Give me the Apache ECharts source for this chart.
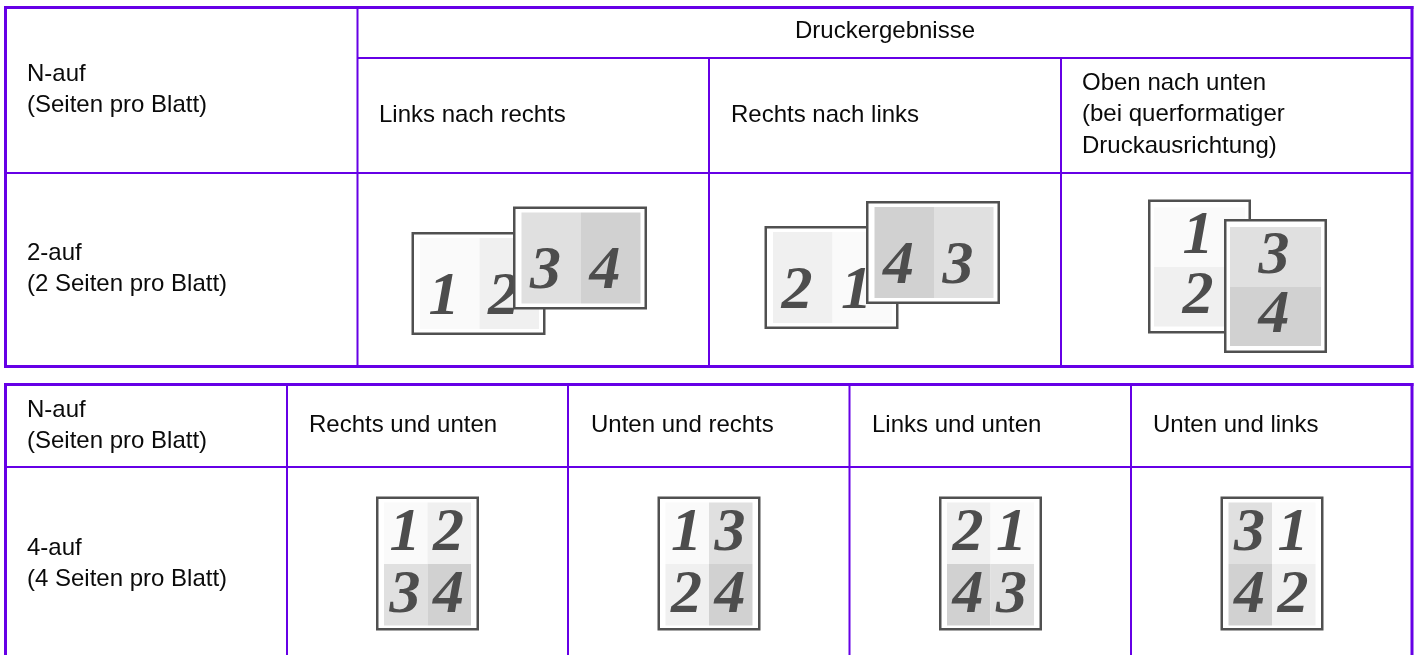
<!DOCTYPE html>
<html style="height: 100%">
<head>
    <meta charset="utf-8">
    <title>N-auf</title>
</head>
<body style="height: 100%; margin: 0; background: #fff">
<div id="container" style="width: 1416px; height: 655px"></div>
<script type="text/javascript" src="https://cdn.jsdelivr.net/npm/echarts@6/dist/echarts.min.js"></script>
<script type="text/javascript">
    // texts of the two tables
    var headerLabels = ['Druckergebnisse', 'N-auf', '(Seiten pro Blatt)', 'Links nach rechts', 'Rechts nach links',
        'Oben nach unten', '(bei querformatiger', 'Druckausrichtung)', '2-auf', '(2 Seiten pro Blatt)'];
    var lowerLabels = ['N-auf', '(Seiten pro Blatt)', 'Rechts und unten', 'Unten und rechts', 'Links und unten',
        'Unten und links', '4-auf', '(4 Seiten pro Blatt)'];

    // page numbers on every sheet, row by row
    var twoUpPages = [[[1, 2]], [[3, 4]], [[2, 1]], [[4, 3]], [[1], [2]], [[3], [4]]];
    var fourUpPages = [[[1, 2], [3, 4]], [[1, 3], [2, 4]], [[2, 1], [4, 3]], [[3, 1], [4, 2]]];
    var pageShades = {1: '#fafafa', 2: '#f0f0f0', 3: '#e0e0e0', 4: '#d1d1d1'};

    // layout, pixels of the picture
    var purple = '#6600e6';
    var ruleLines = [
        // outer frames, 3px
        [5.5, 6, 5.5, 368, 3], [1412, 6, 1412, 368, 3], [4, 7.5, 1413.5, 7.5, 3], [4, 366.5, 1413.5, 366.5, 3],
        [5.5, 383, 5.5, 655, 3], [1412, 383, 1412, 655, 3], [4, 384.5, 1413.5, 384.5, 3],
        // upper table
        [357.5, 8, 357.5, 366, 2], [357.5, 58, 1412, 58, 2], [5, 173, 1412, 173, 2],
        [709, 58, 709, 366, 2], [1061, 58, 1061, 366, 2],
        // lower table
        [5, 467, 1412, 467, 2], [287, 385, 287, 655, 2], [568, 385, 568, 655, 2],
        [849.5, 385, 849.5, 655, 2], [1131, 385, 1131, 655, 2]
    ];
    var headerSpots = [[885, 38.3, 'center'], [27, 81], [27, 112.3], [379, 122.3], [731, 122.3], [1082, 90], [1082, 121.7], [1082, 153.3], [27, 260.7], [27, 291.7]];
    var lowerSpots = [[27, 417.3], [27, 448.7], [309, 432.3], [591, 432.3], [872, 432.3], [1153, 432.3], [27, 555], [27, 586]];

    // outer box, inner box, cell split, digit centre / baseline inside a cell
    var landscape = {w: 134, h: 103, padX: 8.5, padY: 6, inW: 119, inH: 91, digitX: 24, digitY: 79.5};
    var portrait = {w: 103, h: 134, padX: 6, padY: 8, inW: 91, inH: 119, digitX: 44, digitY: 49.5};
    var quarter = {w: 103, h: 134, padX: 8, padY: 6, inW: 87, inH: 123, digitX: 21, digitY: 51.5};
    var sheetSpots = [
        [411.5, 232, landscape, 0], [513, 206.5, landscape, 1],
        [764.5, 226, landscape, 2], [866, 201, landscape, 3],
        [1148, 199.5, portrait, 4], [1224, 219, portrait, 5]
    ];
    var quarterSpots = [[376, 496.5, quarter, 0], [657.5, 496.5, quarter, 1], [939, 496.5, quarter, 2], [1220.5, 496.5, quarter, 3]];

    function px(api, x, y) {
        return api.coord([x, y]);
    }

    function renderRule(params, api) {
        var r = ruleLines[api.value(0)];
        var a = px(api, r[0], r[1]), b = px(api, r[2], r[3]);
        return {
            type: 'line',
            shape: {x1: a[0], y1: a[1], x2: b[0], y2: b[1]},
            style: {stroke: purple, lineWidth: r[4]}
        };
    }

    function labelItem(api, text, spot) {
        var p = px(api, spot[0], spot[1]);
        return {
            type: 'text',
            style: {
                text: text, x: p[0], y: p[1] - 7,
                fill: '#0a0a0a',
                fontFamily: 'Liberation Sans',
                fontSize: 24,
                align: spot[2] || 'left',
                verticalAlign: 'middle'
            }
        };
    }

    function sheetItem(api, spot, pages) {
        var kind = spot[2];
        var o = px(api, spot[0], spot[1]);
        var children = [{
            type: 'rect',
            shape: {x: o[0] + 1.25, y: o[1] + 1.25, width: kind.w - 2.5, height: kind.h - 2.5},
            style: {fill: '#fff', stroke: '#505050', lineWidth: 2.5}
        }];
        var rows = pages.length, cols = pages[0].length;
        var cw = kind.inW / cols, ch = kind.inH / rows;
        pages.forEach(function (row, ri) {
            row.forEach(function (page, ci) {
                var cx = o[0] + kind.padX + ci * cw, cy = o[1] + kind.padY + ri * ch;
                children.push({
                    type: 'rect',
                    shape: {x: cx, y: cy, width: cw, height: ch},
                    style: {fill: pageShades[page]}
                });
            });
        });
        pages.forEach(function (row, ri) {
            row.forEach(function (page, ci) {
                var cx = o[0] + kind.padX + ci * cw, cy = o[1] + kind.padY + ri * ch;
                children.push({
                    type: 'text',
                    style: {
                        text: String(page), x: cx + kind.digitX, y: cy + kind.digitY - 20,
                        fill: '#4d4d4d',
                        fontFamily: 'Liberation Serif',
                        fontStyle: 'italic',
                        fontWeight: 'bold',
                        fontSize: 62,
                        align: 'center',
                        verticalAlign: 'middle'
                    }
                });
            });
        });
        return {type: 'group', children: children};
    }

    function indexes(list) {
        return list.map(function (item, i) { return [i]; });
    }

    var allLabels = headerLabels.concat(lowerLabels);
    var allSpots = headerSpots.concat(lowerSpots);
    var allSheets = sheetSpots.concat(quarterSpots);
    var sheetPages = twoUpPages.concat(fourUpPages);

    var dom = document.getElementById('container');
    var myChart = echarts.init(dom);
    var option = {
        animation: false,
        backgroundColor: '#fff',
        grid: {left: 0, right: 0, top: 0, bottom: 0},
        xAxis: {type: 'value', min: 0, max: 1416, show: false},
        yAxis: {type: 'value', min: 0, max: 655, inverse: true, show: false},
        tooltip: {show: false},
        series: [
            {
                type: 'custom', silent: true, clip: false,
                renderItem: renderRule,
                encode: {x: 0, y: 0},
                data: indexes(ruleLines)
            },
            {
                type: 'custom', silent: true, clip: false,
                renderItem: function (params, api) {
                    var i = api.value(0);
                    return labelItem(api, allLabels[i], allSpots[i]);
                },
                encode: {x: 0, y: 0},
                data: indexes(allLabels)
            },
            {
                type: 'custom', silent: true, clip: false,
                renderItem: function (params, api) {
                    var i = api.value(0);
                    return sheetItem(api, allSheets[i], sheetPages[i]);
                },
                encode: {x: 0, y: 0},
                data: indexes(allSheets)
            }
        ]
    };
    myChart.setOption(option);
</script>
</body>
</html>
